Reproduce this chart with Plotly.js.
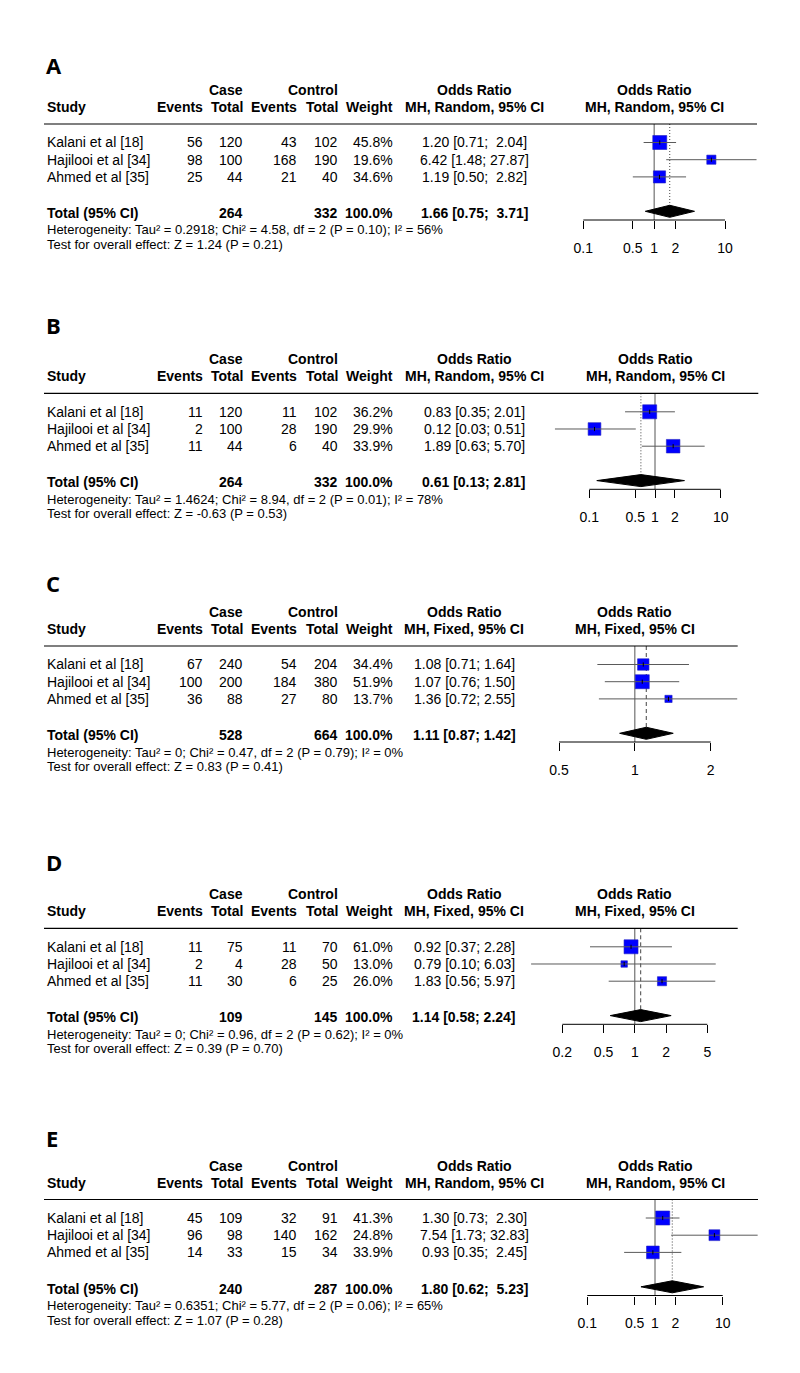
<!DOCTYPE html>
<html><head><meta charset="utf-8">
<script src="https://cdn.plot.ly/plotly-3.0.1.min.js"></script>
<style>html,body{margin:0;padding:0;background:#fff}</style>
</head><body><div id="chart" style="width:800px;height:1373px"></div>
<script>
// ---------------- DATA ----------------
const studies = ["Kalani et al [18]", "Hajilooi et al [34]", "Ahmed et al [35]"];
const panelLabels = ["A", "B", "C", "D", "E"];
const methods = ["Random", "Random", "Fixed", "Fixed", "Random"];

const A_caseEvents = [56, 98, 25];
const A_caseTotal  = [120, 100, 44];
const A_ctrlEvents = [43, 168, 21];
const A_ctrlTotal  = [102, 190, 40];
const A_weight     = [45.8, 19.6, 34.6];
const A_or = [1.20, 6.42, 1.19];
const A_lo = [0.71, 1.48, 0.50];
const A_hi = [2.04, 27.87, 2.82];
const A_total = [1.66, 0.75, 3.71];

const B_caseEvents = [11, 2, 11];
const B_caseTotal  = [120, 100, 44];
const B_ctrlEvents = [11, 28, 6];
const B_ctrlTotal  = [102, 190, 40];
const B_weight     = [36.2, 29.9, 33.9];
const B_or = [0.83, 0.12, 1.89];
const B_lo = [0.35, 0.03, 0.63];
const B_hi = [2.01, 0.51, 5.70];
const B_total = [0.61, 0.13, 2.81];

const C_caseEvents = [67, 100, 36];
const C_caseTotal  = [240, 200, 88];
const C_ctrlEvents = [54, 184, 27];
const C_ctrlTotal  = [204, 380, 80];
const C_weight     = [34.4, 51.9, 13.7];
const C_or = [1.08, 1.07, 1.36];
const C_lo = [0.71, 0.76, 0.72];
const C_hi = [1.64, 1.50, 2.55];
const C_total = [1.11, 0.87, 1.42];

const D_caseEvents = [11, 2, 11];
const D_caseTotal  = [75, 4, 30];
const D_ctrlEvents = [11, 28, 6];
const D_ctrlTotal  = [70, 50, 25];
const D_weight     = [61.0, 13.0, 26.0];
const D_or = [0.92, 0.79, 1.83];
const D_lo = [0.37, 0.10, 0.56];
const D_hi = [2.28, 6.03, 5.97];
const D_total = [1.14, 0.58, 2.24];

const E_caseEvents = [45, 96, 14];
const E_caseTotal  = [109, 98, 33];
const E_ctrlEvents = [32, 140, 15];
const E_ctrlTotal  = [91, 162, 34];
const E_weight     = [41.3, 24.8, 33.9];
const E_or = [1.30, 7.54, 0.93];
const E_lo = [0.73, 1.73, 0.35];
const E_hi = [2.30, 32.83, 2.45];
const E_total = [1.80, 0.62, 5.23];

const hetTau = ["0.2918", "1.4624", "0", "0", "0.6351"];
const hetChi = ["4.58", "8.94", "0.47", "0.96", "5.77"];
const hetP   = ["0.10", "0.01", "0.79", "0.62", "0.06"];
const hetI2  = ["56%", "78%", "0%", "0%", "65%"];
const testZ  = ["1.24", "-0.63", "0.83", "0.39", "1.07"];
const testP  = ["0.21", "0.53", "0.41", "0.70", "0.28"];

const ticksWide = [0.1, 0.5, 1, 2, 10];
const ticksWideText = ["0.1", "0.5", "1", "2", "10"];
const ticksC = [0.5, 1, 2];
const ticksCText = ["0.5", "1", "2"];
const ticksD = [0.2, 0.5, 1, 2, 5];
const ticksDText = ["0.2", "0.5", "1", "2", "5"];

const panels = [
  {ce: A_caseEvents, ct: A_caseTotal, xe: A_ctrlEvents, xt: A_ctrlTotal, w: A_weight, or: A_or, lo: A_lo, hi: A_hi, tot: A_total, tv: ticksWide, tt: ticksWideText},
  {ce: B_caseEvents, ct: B_caseTotal, xe: B_ctrlEvents, xt: B_ctrlTotal, w: B_weight, or: B_or, lo: B_lo, hi: B_hi, tot: B_total, tv: ticksWide, tt: ticksWideText},
  {ce: C_caseEvents, ct: C_caseTotal, xe: C_ctrlEvents, xt: C_ctrlTotal, w: C_weight, or: C_or, lo: C_lo, hi: C_hi, tot: C_total, tv: ticksC, tt: ticksCText},
  {ce: D_caseEvents, ct: D_caseTotal, xe: D_ctrlEvents, xt: D_ctrlTotal, w: D_weight, or: D_or, lo: D_lo, hi: D_hi, tot: D_total, tv: ticksD, tt: ticksDText},
  {ce: E_caseEvents, ct: E_caseTotal, xe: E_ctrlEvents, xt: E_ctrlTotal, w: E_weight, or: E_or, lo: E_lo, hi: E_hi, tot: E_total, tv: ticksWide, tt: ticksWideText}
];

// ---------------- LAYOUT CONSTANTS (pixels) ----------------
const W = 800, H = 1373;
const FONT = "Liberation Sans, Arial, Helvetica, sans-serif";
const LETTER_FONT = "Open Sans, Lato, sans-serif";
const lineY   = [124, 393.3, 646, 928.3, 1199.5];
const letterY = [65, 325, 582.7, 861.7, 1138];
const lineEnd = [757, 758.3, 737.7, 737.7, 758];
const tickPx  = [[583.3, 725], [589.3, 720.7], [559, 710.7], [562.3, 707.3], [587.3, 722.7]];
const rowPx = 17.2, rowOff = 1.3, axisGap = 96;
const xLeft = 515;
const colStudy = 45, colCE = 204.5, colCT = 245, colXE = 298.5, colXT = 339.5, colW = 394.5;
const colOR = {Random: 474, Fixed: 464.5};
const halfDiamond = 0.35;

const traces = [], shapes = [], annotations = [];
const layout = {
  width: W, height: H, margin: {l: 0, r: 0, t: 0, b: 0},
  paper_bgcolor: "#fff", plot_bgcolor: "rgba(0,0,0,0)", showlegend: false,
  font: {family: FONT, size: 14, color: "#000"}
};

const rowOfPx = px => (px - rowOff) / rowPx;
const fmt2 = v => v.toFixed(2);

panels.forEach((p, i) => {
  const n = i + 1;
  const xa = n === 1 ? "x" : "x" + n, ya = n === 1 ? "y" : "y" + n;
  const L = lineY[i];
  const [pxMin, pxMax] = tickPx[i];
  const vMin = p.tv[0], vMax = p.tv[p.tv.length - 1];
  const s = (pxMax - pxMin) / (Math.log10(vMax) - Math.log10(vMin));
  const xR = lineEnd[i];
  layout[n === 1 ? "xaxis" : "xaxis" + n] = {
    type: "log", domain: [xLeft / W, xR / W],
    range: [Math.log10(vMin) - (pxMin - xLeft) / s, Math.log10(vMax) + (xR - pxMax) / s],
    anchor: ya, tickvals: p.tv, ticktext: p.tt, ticks: "outside", ticklen: 8, tickwidth: 1,
    tickcolor: "#000", showline: false, showgrid: false, zeroline: false,
    tickfont: {family: FONT, size: 14, color: "#000"}, ticklabelstandoff: 7, fixedrange: true
  };
  layout[n === 1 ? "yaxis" : "yaxis" + n] = {
    domain: [1 - (L + axisGap) / H, 1 - L / H],
    range: [rowOfPx(axisGap), rowOfPx(0)], visible: false, anchor: xa, fixedrange: true
  };

  const rows = studies.map((_, k) => k + 1);
  const totalRow = studies.length + 2;
  const maxW = Math.max(...p.w);

  // squares
  traces.push({type: "scatter", mode: "markers", xaxis: xa, yaxis: ya, x: p.or, y: rows,
    marker: {symbol: "square", color: "#0000ff", opacity: 1, size: p.w.map(w => 14 * Math.sqrt(w / maxW)),
      line: {color: "#2020c0", width: 0.6}}, hoverinfo: "skip"});
  // CI lines
  const cx = [], cy = [];
  rows.forEach((r, k) => { cx.push(p.lo[k], p.hi[k], null); cy.push(r, r, null); });
  traces.push({type: "scatter", mode: "lines", xaxis: xa, yaxis: ya, x: cx, y: cy,
    line: {color: "#5a5a5a", width: 1}, hoverinfo: "skip"});
  // estimate tick
  traces.push({type: "scatter", mode: "markers", xaxis: xa, yaxis: ya, x: p.or, y: rows,
    marker: {symbol: "line-ns", size: 3, opacity: 1, color: "#000", line: {color: "#000", width: 1}}, hoverinfo: "skip"});
  // diamond
  const [te, tl, th] = p.tot;
  traces.push({type: "scatter", mode: "lines", xaxis: xa, yaxis: ya,
    x: [tl, te, th, te, tl], y: [totalRow, totalRow - halfDiamond, totalRow, totalRow + halfDiamond, totalRow],
    fill: "toself", fillcolor: "#000", line: {color: "#000", width: 1}, hoverinfo: "skip"});

  // shapes
  shapes.push({type: "line", xref: "paper", yref: "paper", x0: 44 / W, x1: xR / W,
    y0: 1 - L / H, y1: 1 - L / H, line: {color: "#000", width: 1.2}});
  shapes.push({type: "line", xref: xa, yref: ya + " domain", x0: vMin, x1: vMax, y0: 0, y1: 0,
    line: {color: "#000", width: 1}});
  shapes.push({type: "line", xref: xa, yref: ya + " domain", x0: 1, x1: 1, y0: 0, y1: 1,
    line: {color: "#555", width: 1}, layer: "below"});
  shapes.push({type: "line", xref: xa, yref: ya, x0: te, x1: te, y0: rowOfPx(0), y1: totalRow - halfDiamond,
    line: {color: "#444", width: 1, dash: methods[i] === "Random" ? "1px,2px" : "4px,3px"}, layer: "below"});

  // text helpers (paper coordinates, vertical position from the panel's row grid)
  const rowToPaper = r => 1 - (L + rowOff + rowPx * r) / H;
  const ann = (text, xpx, yrow, anchor, size) => annotations.push({
    text, xref: "paper", yref: "paper", x: xpx / W, y: rowToPaper(yrow), xanchor: anchor, yanchor: "middle",
    showarrow: false, font: {family: FONT, size: size || 14, color: "#000"}
  });

  // panel letter
  annotations.push({text: "<b>" + panelLabels[i] + "</b>", xref: "paper", yref: "paper", x: 44 / W,
    y: 1 - letterY[i] / H, xanchor: "left", yanchor: "middle", showarrow: false,
    font: {family: LETTER_FONT, size: 22, color: "#000"}});

  const hdr1 = rowOfPx(-34), hdr2 = rowOfPx(-17);
  const cOR = colOR[methods[i]];
  const cPlot = (pxMin + pxMax) / 2;
  const mh = "MH, " + methods[i] + ", 95% CI";
  ann("<b>Case</b>", colCT, hdr1, "right");
  ann("<b>Control</b>", colXT, hdr1, "right");
  ann("<b>Odds Ratio</b>", cOR, hdr1, "center");
  ann("<b>Odds Ratio</b>", cPlot, hdr1, "center");
  ann("<b>Study</b>", colStudy, hdr2, "left");
  ann("<b>Events</b>", colCE, hdr2, "right");
  ann("<b>Total</b>", colCT, hdr2, "right");
  ann("<b>Events</b>", colXE, hdr2, "right");
  ann("<b>Total</b>", colXT, hdr2, "right");
  ann("<b>Weight</b>", colW, hdr2, "right");
  ann("<b>" + mh + "</b>", cOR, hdr2, "center");
  ann("<b>" + mh + "</b>", cPlot, hdr2, "center");

  const hiLen = Math.max(...p.hi.map(v => fmt2(v).length), fmt2(th).length);
  const ciText = (e, l, h) => fmt2(e) + " [" + fmt2(l) + ";\u00A0" + "\u00A0".repeat(hiLen - fmt2(h).length) + fmt2(h) + "]";

  studies.forEach((name, k) => {
    const r = rows[k];
    ann(name, colStudy, r, "left");
    ann(String(p.ce[k]), colCE, r, "right");
    ann(String(p.ct[k]), colCT, r, "right");
    ann(String(p.xe[k]), colXE, r, "right");
    ann(String(p.xt[k]), colXT, r, "right");
    ann(p.w[k].toFixed(1) + "%", colW, r, "right");
    ann(ciText(p.or[k], p.lo[k], p.hi[k]), cOR, r, "center");
  });
  const totY = rowOfPx(89);
  const sum = a => a.reduce((x, y) => x + y, 0);
  ann("<b>Total (95% CI)</b>", colStudy, totY, "left");
  ann("<b>" + sum(p.ct) + "</b>", colCT, totY, "right");
  ann("<b>" + sum(p.xt) + "</b>", colXT, totY, "right");
  ann("<b>" + sum(p.w).toFixed(1) + "%</b>", colW, totY, "right");
  ann("<b>" + ciText(te, tl, th) + "</b>", cOR, totY, "center");
  ann("Heterogeneity: Tau\u00B2 = " + hetTau[i] + "; Chi\u00B2 = " + hetChi[i] +
      ", df = 2 (P = " + hetP[i] + "); I\u00B2 = " + hetI2[i], colStudy, rowOfPx(106), "left", 13);
  ann("Test for overall effect: Z = " + testZ[i] + " (P = " + testP[i] + ")", colStudy, rowOfPx(120.5), "left", 13);
});

layout.shapes = shapes;
layout.annotations = annotations;
Plotly.newPlot("chart", traces, layout, {staticPlot: true, displayModeBar: false});
</script></body></html>
